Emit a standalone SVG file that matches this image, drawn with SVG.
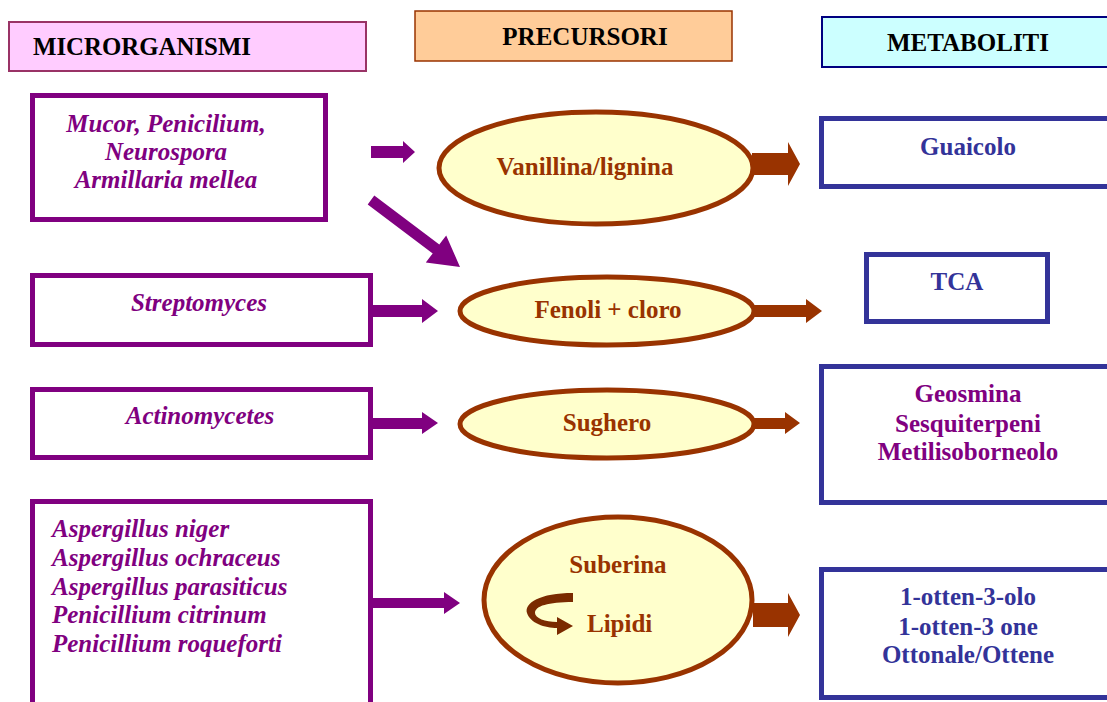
<svg xmlns="http://www.w3.org/2000/svg" width="1107" height="702" viewBox="0 0 1107 702">
<style>
text{font-family:"Liberation Serif","Times New Roman",serif;font-weight:bold;font-size:25px}
.hdr{font-size:25px;fill:#000}
.mic{fill:#800080;font-style:italic}
.pre{fill:#993300}
.met{fill:#333399}
.mbox{fill:#fff;stroke:#800080;stroke-width:5}
.bbox{fill:#fff;stroke:#333399;stroke-width:5}
.ell{fill:#FFFFCC;stroke:#993300;stroke-width:5}
.pa{fill:#800080}
.ba{fill:#993300}
</style>
<rect width="1107" height="702" fill="#fff"/>
<g id="hdr-micro">
<rect x="9" y="22" width="357" height="49" fill="#FFCCFF" stroke="#993366" stroke-width="2"/>
<text class="hdr" x="33" y="55" textLength="218" lengthAdjust="spacingAndGlyphs">MICRORGANISMI</text>
</g>
<g id="hdr-prec">
<rect x="415" y="11" width="317" height="50" fill="#FFCC99" stroke="#993300" stroke-width="1.5"/>
<text class="hdr" x="585" y="45" text-anchor="middle">PRECURSORI</text>
</g>
<g id="hdr-met">
<rect x="822" y="17" width="300" height="50" fill="#CCFFFF" stroke="#000080" stroke-width="2"/>
<text class="hdr" x="968" y="51" text-anchor="middle">METABOLITI</text>
</g>
<g id="m1">
<rect class="mbox" x="32.5" y="95.5" width="293" height="124"/>
<text class="mic" x="166" y="132" text-anchor="middle">Mucor, Penicilium,</text>
<text class="mic" x="166" y="160" text-anchor="middle">Neurospora</text>
<text class="mic" x="166" y="188" text-anchor="middle">Armillaria mellea</text>
</g>
<g id="m2">
<rect class="mbox" x="32.5" y="275.5" width="338" height="69"/>
<text class="mic" x="199" y="311" text-anchor="middle">Streptomyces</text>
</g>
<g id="m3">
<rect class="mbox" x="32.5" y="389.5" width="338" height="68"/>
<text class="mic" x="200" y="424" text-anchor="middle">Actinomycetes</text>
</g>
<g id="m4">
<rect class="mbox" x="32.5" y="501.5" width="338" height="250"/>
<text class="mic" x="52" y="537">Aspergillus niger</text>
<text class="mic" x="52" y="566">Aspergillus ochraceus</text>
<text class="mic" x="52" y="595">Aspergillus parasiticus</text>
<text class="mic" x="52" y="623">Penicillium citrinum</text>
<text class="mic" x="52" y="652">Penicillium roqueforti</text>
</g>
<g id="p1">
<ellipse class="ell" cx="596" cy="168" rx="157" ry="56"/>
<text class="pre" x="585" y="175" text-anchor="middle">Vanillina/lignina</text>
</g>
<g id="p2">
<ellipse class="ell" cx="607" cy="311" rx="147" ry="34"/>
<text class="pre" x="608" y="318" text-anchor="middle">Fenoli + cloro</text>
</g>
<g id="p3">
<ellipse class="ell" cx="607" cy="424" rx="147" ry="34"/>
<text class="pre" x="607" y="431" text-anchor="middle">Sughero</text>
</g>
<g id="p4">
<ellipse class="ell" cx="618" cy="600" rx="134" ry="83"/>
<text class="pre" x="618" y="573" text-anchor="middle">Suberina</text>
<text class="pre" x="587" y="632">Lipidi</text>
<path d="M573,593 C540,593 524,603 527,613 C530,623 545,628 557,628 L557,635 L573,626 L557,617 L557,622 C545,622 535,618 535,613 C535,606 548,602 573,602 Z" fill="#7a2a00"/>
</g>
<g id="r1">
<rect class="bbox" x="821.5" y="118.5" width="300" height="68"/>
<text class="met" x="968" y="155" text-anchor="middle">Guaicolo</text>
</g>
<g id="r2">
<rect class="bbox" x="866.5" y="254.5" width="181" height="67"/>
<text class="met" x="957" y="290" text-anchor="middle">TCA</text>
</g>
<g id="r3">
<rect class="bbox" x="821.5" y="366.5" width="300" height="136"/>
<text class="mic" style="font-style:normal" x="968" y="402" text-anchor="middle">Geosmina</text>
<text class="mic" style="font-style:normal" x="968" y="432" text-anchor="middle">Sesquiterpeni</text>
<text class="mic" style="font-style:normal" x="968" y="460" text-anchor="middle">Metilisoborneolo</text>
</g>
<g id="r4">
<rect class="bbox" x="821.5" y="569.5" width="300" height="128"/>
<text class="met" x="968" y="605" text-anchor="middle">1-otten-3-olo</text>
<text class="met" x="968" y="635" text-anchor="middle">1-otten-3 one</text>
<text class="met" x="968" y="663" text-anchor="middle">Ottonale/Ottene</text>
</g>
<g id="connectors">
<polygon class="pa" points="371,146 403,146 403,141 415,152 403,163 403,158 371,158"/>
<polygon class="pa" points="374.3,195.6 439.3,244.6 446.2,235.4 460,267 425.8,262.6 432.7,253.4 367.7,204.4"/>
<polygon class="pa" points="373,305 422,305 422,299 438,311 422,323 422,317 373,317"/>
<polygon class="pa" points="373,418 422,418 422,412 438,423 422,434 422,429 373,429"/>
<polygon class="pa" points="373,598 444,598 444,592 460,603 444,614 444,608 373,608"/>
<polygon class="ba" points="752,153 788,153 788,142 800,164 788,186 788,175 752,175"/>
<polygon class="ba" points="753,305 806,305 806,299 822,311 806,323 806,317 753,317"/>
<polygon class="ba" points="753,418 785,418 785,412 800,423 785,434 785,429 753,429"/>
<polygon class="ba" points="753,603 788,603 788,593 800,615 788,637 788,627 753,627"/>
</g>
</svg>
